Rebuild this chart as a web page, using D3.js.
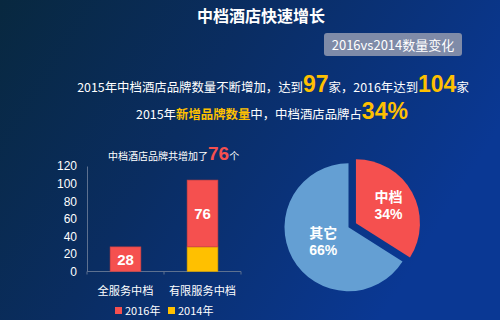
<!DOCTYPE html>
<html>
<head>
<meta charset="utf-8">
<script src="https://cdn.jsdelivr.net/npm/d3@7"></script>
<style>
  html, body { margin: 0; padding: 0; background: #0a2d55; }
  svg { display: block; font-family: "Noto Sans CJK SC", "DejaVu Sans", sans-serif; }
</style>
</head>
<body>
<svg id="chart" width="500" height="320"></svg>
<script>
// bar chart data
const categories = ['全服务中档', '有限服务中档'];
const seriesNames = ['2014年', '2016年'];
const values2014 = [0, 28];
const values2016 = [28, 76];
const yTicks = [0, 20, 40, 60, 80, 100, 120];

// pie data
const pieLabels = ['中档', '其它'];
const pieValues = [34, 66];

const RED = '#f5504f';
const YELLOW = '#ffc000';
const BLUE = '#649fd3';

const svg = d3.select('#chart');

// background gradient
const defs = svg.append('defs');
const grad = defs.append('linearGradient')
  .attr('id', 'bg')
  .attr('x1', '0%').attr('y1', '0%')
  .attr('x2', '100%').attr('y2', '40%');
grad.append('stop').attr('offset', '0%').attr('stop-color', '#08283f');
grad.append('stop').attr('offset', '45%').attr('stop-color', '#0a2d62');
grad.append('stop').attr('offset', '100%').attr('stop-color', '#0a3894');
svg.append('rect').attr('width', 500).attr('height', 320).attr('fill', 'url(#bg)');

// title
svg.append('text')
  .attr('x', 261).attr('y', 22)
  .attr('text-anchor', 'middle')
  .attr('font-size', 16).attr('font-weight', 'bold')
  .attr('fill', '#fff')
  .text('中档酒店快速增长');

// badge
svg.append('rect')
  .attr('x', 324).attr('y', 33).attr('width', 138).attr('height', 23)
  .attr('rx', 3).attr('fill', '#7f8ba8');
svg.append('text')
  .attr('x', 393).attr('y', 49.5)
  .attr('text-anchor', 'middle')
  .attr('font-size', 13).attr('fill', '#fff')
  .text('2016vs2014数量变化');

// summary lines
function richLine(y, cx, parts) {
  const t = svg.append('text')
    .attr('x', cx).attr('y', y)
    .attr('text-anchor', 'middle')
    .attr('fill', '#fff');
  parts.forEach(p => {
    t.append('tspan')
      .attr('font-size', p.size || 12.4)
      .attr('font-weight', p.bold ? 'bold' : 'normal')
      .attr('font-family', p.num ? 'Liberation Sans, Arial, sans-serif' : null)
      .attr('fill', p.color || '#fff')
      .text(p.text);
  });
}
richLine(92, 273, [
  { text: '2015年中档酒店品牌数量不断增加，达到' },
  { text: '97', size: 23, bold: true, color: YELLOW, num: true },
  { text: '家，2016年达到' },
  { text: '104', size: 23, bold: true, color: YELLOW, num: true },
  { text: '家' }
]);
richLine(119, 272, [
  { text: '2015年' },
  { text: '新增品牌数量', bold: true, color: YELLOW },
  { text: '中，中档酒店品牌占' },
  { text: '34%', size: 23, bold: true, color: YELLOW, num: true }
]);

// bar chart
const x = d3.scaleBand().domain(categories).range([87, 241]).paddingInner(0.6).paddingOuter(0.3);
const y = d3.scaleLinear().domain([0, 120]).range([271.5, 166]);

const rows = categories.map((c, i) => ({ cat: c, '2014年': values2014[i], '2016年': values2016[i] }));
const stacked = d3.stack().keys(seriesNames)(rows);
const colorOf = { '2014年': YELLOW, '2016年': RED };

const yAxis = svg.append('g')
  .attr('transform', 'translate(87,0)')
  .call(d3.axisLeft(y).tickValues(yTicks).tickSize(0).tickPadding(10));
yAxis.select('.domain').attr('stroke', '#5d7190');
yAxis.selectAll('text').attr('fill', '#fff').attr('font-size', 12)
  .attr('font-family', 'Liberation Sans, Arial, sans-serif');

const xAxis = svg.append('g').attr('transform', 'translate(0,271.5)');
xAxis.append('line').attr('x1', 87).attr('x2', 241).attr('stroke', '#5d7190');
const bounds = [87, 164, 241];
xAxis.selectAll('line.tk').data(bounds).join('line')
  .attr('class', 'tk')
  .attr('x1', d => d).attr('x2', d => d).attr('y1', 0).attr('y2', 3)
  .attr('stroke', '#5d7190');
const xb = d3.scaleBand().domain(categories).range([87, 241]);
xAxis.selectAll('text').data(categories).join('text')
  .attr('x', d => xb(d) + xb.bandwidth() / 2)
  .attr('y', 23)
  .attr('text-anchor', 'middle')
  .attr('font-size', 11.2).attr('fill', '#fff')
  .text(d => d);

stacked.forEach(s => {
  svg.append('g').selectAll('rect').data(s.filter(d => d[1] > d[0])).join('rect')
    .attr('x', d => x(d.data.cat))
    .attr('width', x.bandwidth())
    .attr('y', d => y(d[1]))
    .attr('height', d => y(d[0]) - y(d[1]))
    .attr('fill', colorOf[s.key])
    .attr('stroke', d3.color(colorOf[s.key]).darker(0.6))
    .attr('stroke-width', 0.6);
});
// labels on 2016 segment
const s2016 = stacked.find(s => s.key === '2016年');
svg.append('g').selectAll('text').data(s2016).join('text')
  .attr('x', d => x(d.data.cat) + x.bandwidth() / 2)
  .attr('y', d => (y(d[0]) + y(d[1])) / 2 + 5.5)
  .attr('text-anchor', 'middle')
  .attr('font-size', 15).attr('font-weight', 'bold')
  .attr('font-family', 'Liberation Sans, Arial, sans-serif')
  .attr('fill', '#fff')
  .text(d => d[1] - d[0]);

// bar chart heading
const head = svg.append('text').attr('x', 108).attr('y', 160).attr('fill', '#fff');
head.append('tspan').attr('font-size', 10).text('中档酒店品牌共增加了');
head.append('tspan').attr('font-size', 19).attr('font-weight', 'bold')
  .attr('font-family', 'Liberation Sans, Arial, sans-serif')
  .attr('fill', RED).text(values2016[1]);
head.append('tspan').attr('font-size', 10).text('个');

// legend
const legend = svg.append('g');
const legendItems = [{ name: '2016年', color: RED, x: 115 }, { name: '2014年', color: YELLOW, x: 168 }];
legendItems.forEach(it => {
  legend.append('rect').attr('x', it.x).attr('y', 307).attr('width', 7).attr('height', 7).attr('fill', it.color);
  legend.append('text').attr('x', it.x + 10).attr('y', 315)
    .attr('font-size', 11).attr('fill', '#fff').text(it.name);
});

// pie
const cx = 348.5, cy = 227.3, r = 64;
const pie = d3.pie().sort(null).value(d => d)(pieValues);
const arc = d3.arc().innerRadius(0).outerRadius(r);
const pieColors = [RED, BLUE];
const explode = [8.5, 0];
const pg = svg.append('g').attr('transform', `translate(${cx},${cy})`);
pie.forEach((d, i) => {
  const mid = (d.startAngle + d.endAngle) / 2;
  const dx = Math.sin(mid) * explode[i], dy = -Math.cos(mid) * explode[i];
  const g = pg.append('g').attr('transform', `translate(${dx},${dy})`);
  g.append('path').attr('d', arc(d)).attr('fill', pieColors[i]);
  const lr = i === 0 ? 0.52 : 0.45;
  const la = d3.arc().innerRadius(r * lr).outerRadius(r * lr);
  const c = i === 0 ? [Math.sin(mid) * r * 0.58, -Math.cos(mid) * r * 0.58] : la.centroid(d);
  const t = g.append('text').attr('text-anchor', 'middle').attr('fill', '#fff')
    .attr('font-size', 14).attr('font-weight', 'bold');
  t.append('tspan').attr('x', c[0]).attr('y', c[1] - 3).text(pieLabels[i]);
  t.append('tspan').attr('x', c[0]).attr('y', c[1] + 14)
    .attr('font-family', 'Liberation Sans, Arial, sans-serif')
    .text(d.data + '%');
});
</script>
</body>
</html>
